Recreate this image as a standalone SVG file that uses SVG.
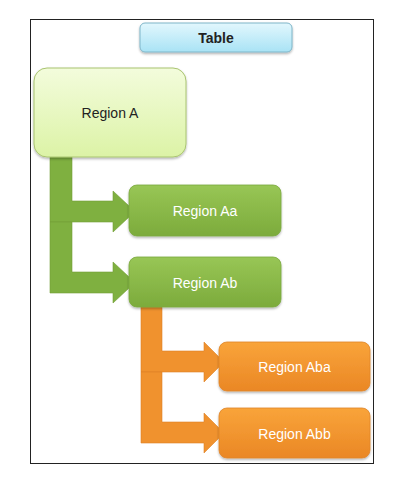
<svg xmlns="http://www.w3.org/2000/svg" width="403" height="483" viewBox="0 0 403 483">
<defs>
<linearGradient id="gTable" x1="0" y1="0" x2="0" y2="1"><stop offset="0" stop-color="#e2f7fd"/><stop offset="1" stop-color="#a9e3f5"/></linearGradient>
<linearGradient id="gA" x1="0" y1="0" x2="0" y2="1"><stop offset="0" stop-color="#f3fcdc"/><stop offset="1" stop-color="#dcf3a6"/></linearGradient>
<linearGradient id="gGreen" x1="0" y1="0" x2="0" y2="1"><stop offset="0" stop-color="#98c655"/><stop offset="1" stop-color="#7cab3c"/></linearGradient>
<linearGradient id="gOrange" x1="0" y1="0" x2="0" y2="1"><stop offset="0" stop-color="#f9a43a"/><stop offset="1" stop-color="#ea8725"/></linearGradient>
<filter id="sh" x="-10%" y="-10%" width="130%" height="140%"><feDropShadow dx="0" dy="1.5" stdDeviation="1.2" flood-color="#000" flood-opacity="0.3"/></filter>
</defs>
<style>
.lbl{font-family:"Liberation Sans",Arial,sans-serif;font-size:14px;text-anchor:middle;dominant-baseline:central}
.w{fill:#ffffff}
.d{fill:#222222}
</style>
<rect x="0" y="0" width="403" height="483" fill="#ffffff"/>
<rect x="30.5" y="19.5" width="343" height="444" fill="#ffffff" stroke="#222" stroke-width="1"/>
<g id="connectors">
<path d="M50,157 H72 V201 H113 V191 L135,211.5 L113,232 V222 H50 Z" fill="#7fb040" stroke="#729e38" stroke-width="0.6"/>
<path d="M50,222 H72 V272 H113 V262 L135,282.5 L113,303 V293 H50 Z" fill="#7fb040" stroke="#729e38" stroke-width="0.6"/>
<path d="M141,307 H162 V351 H204 V342 L224,362 L204,382 V372 H141 Z" fill="#f0922e" stroke="#dd8226" stroke-width="0.6"/>
<path d="M141,372 H162 V422 H204 V413 L224,433 L204,453 V443 H141 Z" fill="#f0922e" stroke="#dd8226" stroke-width="0.6"/>
</g>
<g id="table">
<rect x="140" y="23" width="152" height="29" rx="5" fill="url(#gTable)" stroke="#7fb6c9" stroke-width="1" filter="url(#sh)"/>
<text class="lbl d" x="216" y="37.5" font-weight="bold">Table</text>
</g>
<g id="regionA">
<rect x="34" y="68" width="152" height="89" rx="13" fill="url(#gA)" stroke="#a9c470" stroke-width="1" filter="url(#sh)"/>
<text class="lbl d" x="110" y="113">Region A</text>
</g>
<g id="regionAa">
<rect x="129" y="185" width="152" height="51" rx="8" fill="url(#gGreen)" stroke="#7aa83c" stroke-width="0.8" filter="url(#sh)"/>
<text class="lbl w" x="205" y="210.5">Region Aa</text>
</g>
<g id="regionAb">
<rect x="129" y="257" width="152" height="50" rx="8" fill="url(#gGreen)" stroke="#7aa83c" stroke-width="0.8" filter="url(#sh)"/>
<text class="lbl w" x="205" y="283">Region Ab</text>
</g>
<g id="regionAba">
<rect x="219" y="342" width="151" height="49" rx="8" fill="url(#gOrange)" stroke="#e0852a" stroke-width="0.8" filter="url(#sh)"/>
<text class="lbl w" x="294.5" y="366.5">Region Aba</text>
</g>
<g id="regionAbb">
<rect x="219" y="408" width="151" height="50" rx="8" fill="url(#gOrange)" stroke="#e0852a" stroke-width="0.8" filter="url(#sh)"/>
<text class="lbl w" x="294.5" y="434">Region Abb</text>
</g>
</svg>
